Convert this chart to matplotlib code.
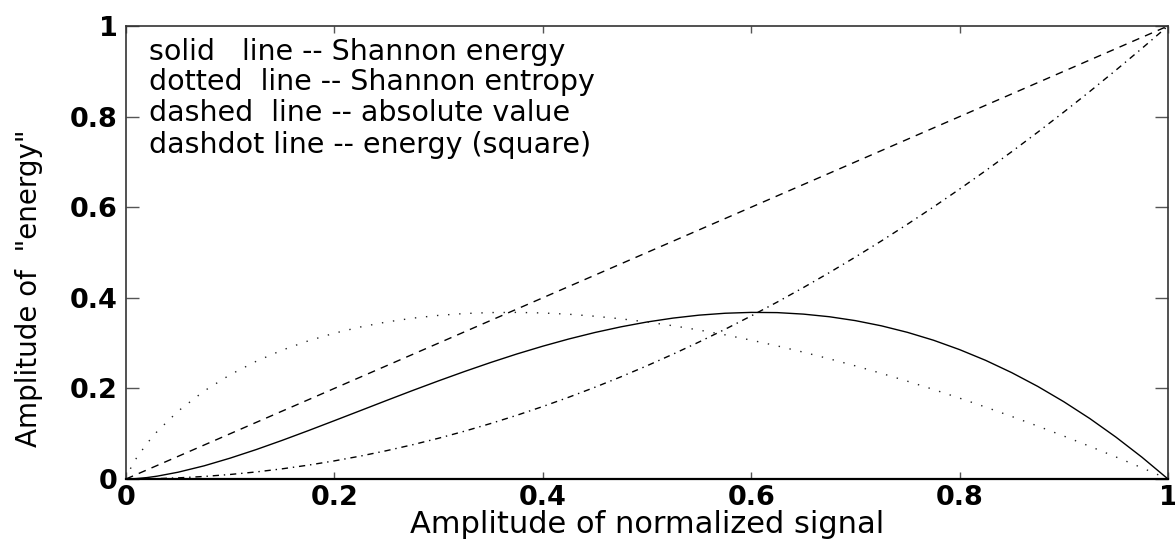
import matplotlib
matplotlib.use("Agg")
import matplotlib.pyplot as plt
from matplotlib.font_manager import FontProperties

# Normalized signal amplitude (sample positions)
amplitude = [0, 0.005, 0.01, 0.02, 0.03, 0.05, 0.075, 0.1, 0.125, 0.15, 0.175,
             0.2, 0.225, 0.25, 0.275, 0.3, 0.325, 0.35, 0.375, 0.4, 0.425, 0.45,
             0.475, 0.5, 0.525, 0.55, 0.575, 0.6, 0.625, 0.65, 0.675, 0.7, 0.725,
             0.75, 0.775, 0.8, 0.825, 0.85, 0.875, 0.9, 0.925, 0.95, 0.975, 1.0]

# Shannon energy
shannon_energy = [0, 0.000265, 0.00092, 0.0031, 0.0063, 0.0150, 0.0291, 0.0461,
                  0.0650, 0.0854, 0.1068, 0.1288, 0.1510, 0.1733, 0.1953, 0.2167,
                  0.2374, 0.2572, 0.2759, 0.2932, 0.3091, 0.3234, 0.3359, 0.3466,
                  0.3552, 0.3617, 0.3659, 0.3678, 0.3673, 0.3640, 0.3582, 0.3496,
                  0.3381, 0.3237, 0.3063, 0.2856, 0.2619, 0.2348, 0.2044, 0.1706,
                  0.1334, 0.0925, 0.0481, 0]

# Shannon entropy
shannon_entropy = [0, 0.0265, 0.0461, 0.0782, 0.1052, 0.1498, 0.1943, 0.2303,
                   0.2599, 0.2846, 0.3050, 0.3219, 0.3356, 0.3466, 0.3550, 0.3612,
                   0.3653, 0.3674, 0.3678, 0.3665, 0.3637, 0.3593, 0.3536, 0.3466,
                   0.3383, 0.3288, 0.3182, 0.3065, 0.2938, 0.2800, 0.2653, 0.2497,
                   0.2332, 0.2158, 0.1976, 0.1785, 0.1587, 0.1381, 0.1168, 0.0948,
                   0.0721, 0.0487, 0.0247, 0]

# Absolute value
absolute_value = [0, 0.005, 0.01, 0.02, 0.03, 0.05, 0.075, 0.1, 0.125, 0.15, 0.175,
                  0.2, 0.225, 0.25, 0.275, 0.3, 0.325, 0.35, 0.375, 0.4, 0.425, 0.45,
                  0.475, 0.5, 0.525, 0.55, 0.575, 0.6, 0.625, 0.65, 0.675, 0.7, 0.725,
                  0.75, 0.775, 0.8, 0.825, 0.85, 0.875, 0.9, 0.925, 0.95, 0.975, 1.0]

# Energy (square)
energy_square = [0, 0.000025, 0.0001, 0.0004, 0.0009, 0.0025, 0.0056, 0.01,
                 0.0156, 0.0225, 0.0306, 0.04, 0.0506, 0.0625, 0.0756, 0.09,
                 0.1056, 0.1225, 0.1406, 0.16, 0.1806, 0.2025, 0.2256, 0.25,
                 0.2756, 0.3025, 0.3306, 0.36, 0.3906, 0.4225, 0.4556, 0.49,
                 0.5256, 0.5625, 0.6006, 0.64, 0.6806, 0.7225, 0.7656, 0.81,
                 0.8556, 0.9025, 0.9506, 1.0]

tick_values = [0, 0.2, 0.4, 0.6, 0.8, 1]
tick_labels = ["0", "0.2", "0.4", "0.6", "0.8", "1"]

legend_lines = [
    "solid   line -- Shannon energy",
    "dotted  line -- Shannon entropy",
    "dashed  line -- absolute value",
    "dashdot line -- energy (square)",
]

fig = plt.figure(figsize=(11.75, 5.39), dpi=100)
ax = fig.add_axes([126 / 1175, 1 - 479 / 539, 1042 / 1175, 453 / 539])

lw = 1.0
ax.plot(amplitude, shannon_energy, color="black", lw=lw, linestyle="-")
ax.plot(amplitude, shannon_entropy, color="#222222", lw=lw, linestyle=(0, (1.0, 7.0)))
ax.plot(amplitude, absolute_value, color="black", lw=lw, linestyle=(0, (5.5, 4.5)))
ax.plot(amplitude, energy_square, color="black", lw=lw, linestyle=(0, (4.5, 3.5, 1.0, 3.5)))

ax.set_xlim(0, 1)
ax.set_ylim(0, 1)
ax.set_xticks(tick_values)
ax.set_xticklabels(tick_labels)
ax.set_yticks(tick_values)
ax.set_yticklabels(tick_labels)

tick_font = FontProperties(family="DejaVu Sans", weight="bold", size=19.5)
for lab in ax.get_xticklabels() + ax.get_yticklabels():
    lab.set_fontproperties(tick_font)

ax.tick_params(axis="y", which="both", direction="in", length=9.5, width=1.0,
               color="#555555", left=True, right=True, pad=6)
ax.tick_params(axis="x", which="both", direction="in", length=5, width=1.0,
               color="#555555", bottom=True, top=True, pad=4)

for side in ["top", "right", "left"]:
    ax.spines[side].set_color("#333333")
    ax.spines[side].set_linewidth(1.2)
ax.spines["bottom"].set_color("black")
ax.spines["bottom"].set_linewidth(1.6)

ax.set_xlabel("Amplitude of normalized signal", family="DejaVu Sans", size=22,
              va="baseline")
ax.xaxis.set_label_coords(0.5, -0.119)

ax.set_ylabel('Amplitude of  "energy"', family="DejaVu Sans",
              size=20, va="center", ha="center")
ax.yaxis.set_label_coords(-0.093, 0.42)

row_y = [0.943, 0.876, 0.808, 0.737]
for text, yy in zip(legend_lines, row_y):
    ax.text(0.022, yy, text, transform=ax.transAxes, family="DejaVu Sans",
            size=20.5, va="center", ha="left", color="black")

fig.savefig("out.png", dpi=100)
